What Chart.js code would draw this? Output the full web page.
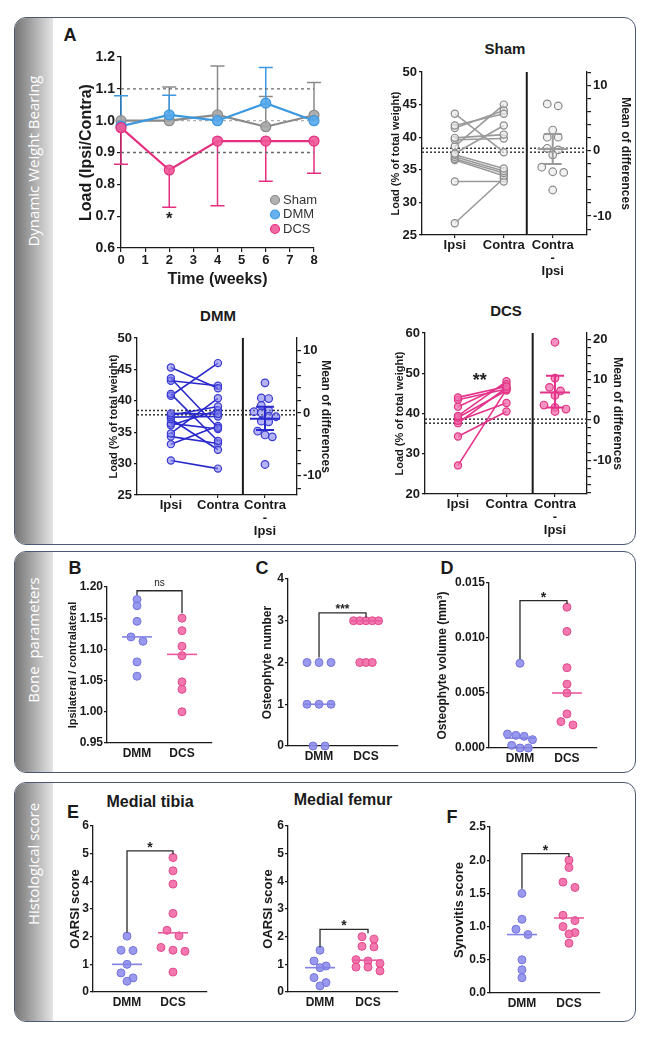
<!DOCTYPE html>
<html>
<head>
<meta charset="utf-8">
<title>Weight bearing, bone parameters and histology</title>
<script src="https://cdn.jsdelivr.net/npm/chart.js@4.4.1/dist/chart.umd.min.js"></script>
<style>
  body { margin: 0; background: #fff; }
  #fig { position: relative; width: 649px; height: 1040px; overflow: hidden; font-family: "Liberation Sans", Arial, sans-serif; color: #1a1a1a; }
  .panel { position: absolute; left: 14px; width: 622px; box-sizing: border-box; border: 1.6px solid #4b5a70; border-radius: 12px; overflow: hidden; }
  .strip { position: absolute; left: 0; top: 0; bottom: 0; width: 38px; background: linear-gradient(to right, #767676, #9c9c9c 35%, #e4e4e4); }
  .side { position: absolute; left: 33px; color: #fff; font-family: "Open Sans", sans-serif; font-size: 15px; white-space: nowrap; transform: translate(-50%, -50%) rotate(-90deg); }
  .tag { position: absolute; font-weight: bold; white-space: nowrap; transform: translate(-50%, -50%); }
  canvas { position: absolute; }
</style>
</head>
<body>
<div id="fig">
  <div class="panel" style="top:17px;height:528px"><div class="strip"></div></div>
  <div class="panel" style="top:551px;height:222px"><div class="strip"></div></div>
  <div class="panel" style="top:782px;height:240px"><div class="strip"></div></div>
  <div class="side" style="top:161px">Dynamic Weight Bearing</div>
  <div class="side" style="top:640px">Bone&nbsp; parameters</div>
  <div class="side" style="top:864px">Histological score</div>

  <div class="tag" style="left:70px;top:35px;font-size:18px">A</div>
  <div class="tag" style="left:505px;top:48px;font-size:15px">Sham</div>
  <div class="tag" style="left:218px;top:315px;font-size:15px">DMM</div>
  <div class="tag" style="left:506px;top:310px;font-size:15px">DCS</div>
  <div class="tag" style="left:75px;top:568px;font-size:18px">B</div>
  <div class="tag" style="left:262px;top:568px;font-size:18px">C</div>
  <div class="tag" style="left:447px;top:568px;font-size:18px">D</div>
  <div class="tag" style="left:150px;top:802px;font-size:16px">Medial tibia</div>
  <div class="tag" style="left:343px;top:800px;font-size:16px">Medial femur</div>
  <div class="tag" style="left:73px;top:812px;font-size:18px">E</div>
  <div class="tag" style="left:452px;top:817px;font-size:18px">F</div>

  <canvas id="cA"></canvas>
  <canvas id="cSham"></canvas>
  <canvas id="cDmm"></canvas>
  <canvas id="cDcs"></canvas>
  <canvas id="cB"></canvas>
  <canvas id="cC"></canvas>
  <canvas id="cD"></canvas>
  <canvas id="cE1"></canvas>
  <canvas id="cE2"></canvas>
  <canvas id="cF"></canvas>
</div>

<script>
// ---- A: load ratio over time ----
const weeks = [0, 2, 4, 6, 8];
const shamRatio = [1.0, 1.0, 1.018, 0.981, 1.017];
const dmmRatio = [0.983, 1.018, 1.0, 1.055, 1.0];
const dcsRatio = [0.978, 0.845, 0.936, 0.936, 0.936];
const shamErrTop = [null, 1.106, 1.172, 1.076, 1.12];
const dmmErrTop = [1.078, 1.08, null, 1.167, null];
const dcsErrLow = [0.863, 0.728, 0.733, 0.81, 0.835];
const ratioGuides = [1.1, 1.0, 0.9];

// ---- paired weight bearing (Ipsi / Contra, Contra - Ipsi) ----
const pairLabels = ['Ipsi', 'Contra', ['Contra', '-', 'Ipsi']];
const shamIpsi = [43.6, 41.8, 41.4, 39.9, 39.6, 38.6, 37.5, 37.3, 37.0, 36.7, 36.5, 33.2, 26.8];
const shamContra = [37.7, 43.6, 44.1, 40.4, 39.8, 45.0, 41.8, 35.2, 34.8, 34.5, 34.1, 33.2, 33.7];
const shamDiff = [7.2, 6.9, 3.2, 2.1, 2.1, 0.4, 0.15, -0.6, -2.5, -3.2, -3.3, -6.0];
const shamDiffMean = 0.3;
const shamDiffSd = [-2.0, 2.6];
const shamGuides = [38.3, 37.7];

const dmmIpsi = [45.3, 43.6, 43.2, 41.1, 40.8, 38.0, 37.7, 37.4, 37.1, 36.4, 36.1, 34.8, 34.3, 33.1, 30.5];
const dmmContra = [42.0, 35.7, 42.4, 33.6, 46.0, 37.9, 39.1, 37.5, 32.2, 35.5, 38.5, 40.4, 33.2, 36.0, 29.2];
const dmmDiff = [4.8, 2.4, 2.3, 1.2, 0.4, 0.2, 0.0, -0.5, -0.6, -1.3, -1.4, -2.9, -3.5, -3.8, -8.2];
const dmmDiffMean = -0.9;
const dmmDiffSd = [-2.7, 1.0];
const dmmGuides = [38.46, 37.77];

const dcsIpsi = [44.0, 43.4, 41.7, 39.4, 39.0, 38.2, 37.6, 34.3, 27.1];
const dcsContra = [46.7, 46.1, 47.3, 48.0, 45.7, 42.6, 46.4, 40.5, 46.0];
const dcsDiff = [19.3, 10.4, 8.1, 7.2, 6.1, 3.7, 3.1, 2.7, 2.1];
const dcsDiffMean = 6.8;
const dcsDiffSd = [3.1, 11.0];
const dcsGuides = [38.6, 37.6];

// ---- B-F: DMM vs DCS ----
const groups = ['DMM', 'DCS'];
const ratioDmm = [1.18, 1.17, 1.145, 1.12, 1.113, 1.08, 1.057];
const ratioDcs = [1.15, 1.13, 1.105, 1.09, 1.048, 1.036, 1.0];
const ratioMedian = [1.12, 1.092];
const osteoNumDmm = [2, 2, 2, 1, 1, 1, 0, 0];
const osteoNumDcs = [3, 3, 3, 3, 3, 2, 2, 2];
const osteoNumMedian = [1, 3];
const osteoVolDmm = [0.0077, 0.00127, 0.00115, 0.00106, 0.00076, 0.00024, 0, 0];
const osteoVolDcs = [0.0128, 0.0106, 0.0073, 0.0058, 0.0050, 0.0031, 0.0024, 0.0021];
const osteoVolMedian = [0.0009, 0.005];
const tibiaDmm = [2.02, 1.51, 1.5, 1.0, 0.69, 0.51, 0.39];
const tibiaDcs = [4.86, 4.38, 3.9, 2.84, 2.23, 2.03, 1.61, 1.51, 1.47, 0.72];
const tibiaMedian = [1.0, 2.14];
const femurDmm = [1.51, 1.12, 0.94, 0.88, 0.52, 0.34, 0.22];
const femurDcs = [2.0, 1.91, 1.65, 1.63, 1.17, 1.12, 1.03, 0.9, 0.9, 0.76];
const femurMedian = [0.88, 1.15];
const synDmm = [1.5, 1.11, 0.96, 0.88, 0.5, 0.35, 0.23];
const synDcs = [2.0, 1.89, 1.67, 1.59, 1.17, 1.09, 1.0, 0.91, 0.89, 0.75];
const synMedian = [0.88, 1.13];

const INK = '#1a1a1a';
Chart.defaults.animation = false;
Chart.defaults.font.family = '"Liberation Sans", Arial, sans-serif';
Chart.defaults.color = INK;
Chart.defaults.plugins.legend.display = false;
Chart.defaults.plugins.tooltip.enabled = false;

// brackets, error bars, mean +/- sd, star texts and the small legend of A
const marks = {
  id: 'marks',
  beforeDatasetsDraw(chart) {
    const { ctx, scales: { x, y } } = chart;
    chart.data.datasets.forEach(ds => {
      if (!ds.errTo) return;
      ctx.save();
      ctx.strokeStyle = ds.borderColor;
      ctx.lineWidth = 1.5;
      ds.errTo.forEach((e, i) => {
        if (e == null) return;
        const px = x.getPixelForValue(ds.data[i].x);
        const p1 = y.getPixelForValue(e);
        ctx.beginPath();
        ctx.moveTo(px, y.getPixelForValue(ds.data[i].y));
        ctx.lineTo(px, p1);
        ctx.moveTo(px - 7, p1);
        ctx.lineTo(px + 7, p1);
        ctx.stroke();
      });
      ctx.restore();
    });
  },
  afterDatasetsDraw(chart, args, o) {
    const { ctx, scales } = chart;
    const x = scales.x;
    ctx.save();
    (o.brackets || []).forEach(k => {
      const y = scales.y;
      const a = x.getPixelForValue(1), c = x.getPixelForValue(2), top = y.getPixelForValue(k.top);
      ctx.strokeStyle = '#2a2a2a';
      ctx.lineWidth = 1.3;
      ctx.beginPath();
      ctx.moveTo(a, y.getPixelForValue(k.feet[0]));
      ctx.lineTo(a, top);
      ctx.lineTo(c, top);
      ctx.lineTo(c, y.getPixelForValue(k.feet[1]));
      ctx.stroke();
      ctx.fillStyle = '#222';
      ctx.font = k.font;
      ctx.textAlign = 'center';
      ctx.textBaseline = 'alphabetic';
      ctx.fillText(k.label, (a + c) / 2, top - k.lift);
    });
    (o.spread || []).forEach(m => {
      const y = scales[m.axis];
      const px = x.getPixelForValue(m.x);
      const lo = y.getPixelForValue(m.lo), hi = y.getPixelForValue(m.hi), mid = y.getPixelForValue(m.mean);
      ctx.strokeStyle = m.color;
      ctx.lineWidth = 2;
      ctx.beginPath();
      ctx.moveTo(px, lo); ctx.lineTo(px, hi);
      ctx.moveTo(px - 9, lo); ctx.lineTo(px + 9, lo);
      ctx.moveTo(px - 9, hi); ctx.lineTo(px + 9, hi);
      ctx.moveTo(px - 15, mid); ctx.lineTo(px + 15, mid);
      ctx.stroke();
    });
    (o.texts || []).forEach(t => {
      ctx.fillStyle = '#222';
      ctx.font = t.font;
      ctx.textAlign = 'center';
      ctx.textBaseline = 'middle';
      ctx.fillText(t.text, x.getPixelForValue(t.x), scales.y.getPixelForValue(t.y));
    });
    if (o.legend) {
      const { left, top } = chart.chartArea;
      chart.data.datasets.filter(d => d.inLegend).forEach((d, i) => {
        const cx = left + o.legend.x, cy = top + o.legend.y + i * o.legend.gap;
        ctx.beginPath();
        ctx.arc(cx, cy, 4.5, 0, Math.PI * 2);
        ctx.fillStyle = d.pointBackgroundColor;
        ctx.fill();
        ctx.strokeStyle = d.borderColor;
        ctx.lineWidth = 1.2;
        ctx.stroke();
        ctx.fillStyle = '#333';
        ctx.font = '13px "Liberation Sans", Arial, sans-serif';
        ctx.textAlign = 'left';
        ctx.textBaseline = 'middle';
        ctx.fillText(d.label, cx + 8, cy);
      });
    }
    ctx.restore();
  }
};
Chart.register(marks);

function frame(id, b) {
  const cv = document.getElementById(id);
  cv.width = b.w;
  cv.height = b.h;
  cv.style.left = b.left + 'px';
  cv.style.top = b.top + 'px';
  return cv;
}

function look(tick) {
  return {
    grid: { drawOnChartArea: false, drawTicks: tick > 0, tickLength: tick, color: INK, lineWidth: 1.2 },
    border: { display: true, color: INK, width: 1.3 }
  };
}

function tickList(min, max, step) {
  const n = Math.round((max - min) / step);
  return Array.from({ length: n + 1 }, (_, i) => ({ value: min + i * step }));
}

// title of a vertical axis, centred on page column cx
function sideTitle(text, size, b, cx, side) {
  const edge = side === 'left' ? cx - b.left : b.left + b.w - cx;
  return { display: true, text, color: INK, font: { size, weight: 'bold' },
           padding: { top: Math.max(0, edge - size * 0.6), bottom: 0 } };
}

function yAxis(b, min, max, step, digits, title, size, tick, pad) {
  return Object.assign({
    type: 'linear', position: 'left', min, max,
    afterBuildTicks: s => { s.ticks = tickList(min, max, step); },
    afterFit: s => { s.width = b.x0 - b.left; },
    ticks: { autoSkip: false, padding: pad, font: { size, weight: 'bold' }, callback: v => v.toFixed(digits) },
    title
  }, look(tick));
}

// sideways spread of points whose values would overlap (rows of near-equal values)
function swarm(values, pxY, pxX, step, maxW, dia) {
  const order = values.map((v, i) => i).sort((a, b) => values[b] - values[a]);
  const rows = [];
  order.forEach(i => {
    const row = rows[rows.length - 1];
    if (row && (values[row[0]] - values[i]) * pxY < dia) row.push(i);
    else rows.push([i]);
  });
  const big = Math.max(...rows.map(r => r.length));
  const gap = big > 1 ? Math.min(step, maxW / (big - 1)) : step;
  const off = values.map(() => 0);
  rows.forEach(r => r.forEach((i, k) => { off[i] = (k - (r.length - 1) / 2) * gap / pxX; }));
  return off;
}

// ---------------- A ----------------
(function () {
  const b = { left: 60, top: 40, w: 275, h: 255, x0: 121, x1: 314, y0: 57, y1: 248 };
  frame('cA', b);
  const series = [
    { label: 'Sham', vals: shamRatio, err: shamErrTop, line: '#8a8a8a', fill: 'rgba(168,168,168,0.9)' },
    { label: 'DMM', vals: dmmRatio, err: dmmErrTop, line: '#3b98df', fill: 'rgba(86,168,236,0.9)' },
    { label: 'DCS', vals: dcsRatio, err: dcsErrLow, line: '#e42f80', fill: 'rgba(240,88,152,0.9)' }
  ];
  const sets = ratioGuides.map((g, i) => ({
    data: [{ x: 0, y: g }, { x: 8, y: g }], showLine: true, pointRadius: 0, order: 5,
    borderColor: i === 1 ? '#b0b0b0' : '#6a6a6a', borderWidth: 1.4, borderDash: [3, 3]
  }));
  series.forEach((s, k) => sets.push({
    label: s.label, inLegend: true, errTo: s.err,
    data: weeks.map((w, i) => ({ x: w, y: s.vals[i] })),
    showLine: true, borderColor: s.line, borderWidth: 2.2,
    pointRadius: 5, pointBackgroundColor: s.fill, pointBorderColor: s.line, pointBorderWidth: 1.2,
    order: 3 - k, clip: false
  }));
  const xH = b.top + b.h - b.y1;
  new Chart(document.getElementById('cA'), {
    type: 'scatter',
    data: { datasets: sets },
    options: {
      responsive: false,
      layout: { padding: { left: 0, top: b.y0 - b.top, right: b.left + b.w - b.x1, bottom: 0 } },
      scales: {
        x: Object.assign({
          type: 'linear', min: 0, max: 8,
          afterBuildTicks: s => { s.ticks = tickList(0, 8, 1); },
          afterFit: s => { s.height = xH; },
          ticks: { autoSkip: false, maxRotation: 0, padding: 1, font: { size: 13, weight: 'bold' } },
          title: { display: true, text: 'Time (weeks)', color: INK, font: { size: 16, weight: 'bold' },
                   padding: { top: 0, bottom: (b.top + b.h - 280) - 9.6 } }
        }, look(4)),
        y: yAxis(b, 0.6, 1.2, 0.1, 1, sideTitle('Load (Ipsi/Contra)', 16, b, 87, 'left'), 14, 4, 2)
      },
      plugins: {
        marks: {
          texts: [{ x: 2, y: 0.69, text: '*', font: 'bold 17px "Liberation Sans", Arial, sans-serif' }],
          legend: { x: 154, y: 143, gap: 14.5 }
        }
      }
    }
  });
})();

// ---------------- paired panels ----------------
function pairedChart(id, b, c) {
  frame(id, b);
  const pxY = (b.y1 - b.y0) / (c.yMax - c.yMin);
  const pxX = (b.x1 - b.x0) / (c.xMax - c.xMin);
  const off = swarm(c.diff, pxY, pxX, 11, 22, 6);
  const sets = [];
  c.guides.forEach(g => sets.push({
    data: [{ x: c.xMin, y: g }, { x: c.xMax, y: g }], showLine: true, pointRadius: 0,
    borderColor: '#333', borderWidth: 1.5, borderDash: [2, 2], order: 4
  }));
  sets.push({
    data: [{ x: c.divider, y: c.yMin }, { x: c.divider, y: c.yMax }], showLine: true, pointRadius: 0,
    borderColor: INK, borderWidth: 2, order: 4
  });
  c.ipsi.forEach((v, i) => sets.push({
    data: [{ x: 1, y: v }, { x: 2, y: c.contra[i] }], showLine: true,
    borderColor: c.line, borderWidth: 1.6,
    pointRadius: 3.6, pointBackgroundColor: c.fill, pointBorderColor: c.ring, pointBorderWidth: 1.2,
    order: 1, clip: false
  }));
  sets.push({
    yAxisID: 'y2', data: c.diff.map((v, i) => ({ x: 3 + off[i], y: v })),
    pointRadius: 3.8, pointBackgroundColor: c.fill, pointBorderColor: c.ring, pointBorderWidth: 1.2,
    order: 0, clip: false
  });
  const lo2 = c.yMin - c.zero, hi2 = c.yMax - c.zero;
  new Chart(document.getElementById(id), {
    type: 'scatter',
    data: { datasets: sets },
    options: {
      responsive: false,
      layout: { padding: { left: 0, top: b.y0 - b.top, right: 0, bottom: 0 } },
      scales: {
        x: Object.assign({
          type: 'linear', min: c.xMin, max: c.xMax,
          afterBuildTicks: s => { s.ticks = [1, 2, 3].map(value => ({ value })); },
          afterFit: s => { s.height = b.top + b.h - b.y1; },
          ticks: { autoSkip: false, maxRotation: 0, padding: 1, font: { size: 13, weight: 'bold', lineHeight: 1 },
                   callback: v => pairLabels[v - 1] }
        }, look(3)),
        y: yAxis(b, c.yMin, c.yMax, c.yStep, 0, sideTitle('Load (% of total weight)', 11, b, c.leftTitle, 'left'), 13, 3, 2),
        y2: Object.assign({
          type: 'linear', position: 'right', min: lo2, max: hi2,
          afterBuildTicks: s => { s.ticks = tickList(Math.ceil(lo2 / 2) * 2, Math.floor(hi2 / 2) * 2, 2); },
          afterFit: s => { s.width = b.left + b.w - b.x1; },
          ticks: { autoSkip: false, padding: 2, font: { size: 13, weight: 'bold' },
                   callback: v => (Math.abs(v % 10) < 1e-6 ? String(Math.round(v)) : '') },
          title: sideTitle('Mean of differences', 12, b, c.rightTitle, 'right')
        }, look(4))
      },
      plugins: {
        marks: {
          spread: [{ axis: 'y2', x: 3, mean: c.mean, lo: c.sd[0], hi: c.sd[1], color: c.line }],
          texts: c.texts || []
        }
      }
    }
  });
}

pairedChart('cSham', { left: 370, top: 60, w: 266, h: 218, x0: 422, x1: 587, y0: 72, y1: 235 }, {
  ipsi: shamIpsi, contra: shamContra, diff: shamDiff, mean: shamDiffMean, sd: shamDiffSd, guides: shamGuides,
  yMin: 25, yMax: 50, yStep: 5, zero: 37.9, xMin: 0.33, xMax: 3.7, divider: 2.47,
  leftTitle: 396, rightTitle: 625,
  line: '#9a9a9a', fill: 'rgba(236,236,236,0.7)', ring: '#8a8a8a'
});

pairedChart('cDmm', { left: 80, top: 325, w: 260, h: 215, x0: 137, x1: 297, y0: 338, y1: 495 }, {
  ipsi: dmmIpsi, contra: dmmContra, diff: dmmDiff, mean: dmmDiffMean, sd: dmmDiffSd, guides: dmmGuides,
  yMin: 25, yMax: 50, yStep: 5, zero: 38.06, xMin: 0.28, xMax: 3.68, divider: 2.53,
  leftTitle: 114, rightTitle: 325,
  line: '#2a2acc', fill: 'rgba(128,128,240,0.6)', ring: '#3a3ad2'
});

pairedChart('cDcs', { left: 370, top: 320, w: 266, h: 220, x0: 425, x1: 587, y0: 333, y1: 494 }, {
  ipsi: dcsIpsi, contra: dcsContra, diff: dcsDiff, mean: dcsDiffMean, sd: dcsDiffSd, guides: dcsGuides,
  yMin: 20, yMax: 60, yStep: 10, zero: 38.4, xMin: 0.32, xMax: 3.66, divider: 2.54,
  leftTitle: 400, rightTitle: 617,
  line: '#e5328a', fill: 'rgba(242,110,172,0.75)', ring: '#e03584',
  texts: [{ x: 1.45, y: 48.0, text: '**', font: 'bold 18px "Liberation Sans", Arial, sans-serif' }]
});

// ---------------- DMM vs DCS dot plots ----------------
function dotChart(id, b, c) {
  frame(id, b);
  const pxY = (b.y1 - b.y0) / (c.yMax - c.yMin);
  const pxX = (b.x1 - b.x0) / (c.xMax - c.xMin);
  const half = 15 / pxX;
  const cols = [
    { vals: c.dmm, mid: c.mid[0], fill: 'rgba(142,142,236,0.9)', ring: '#7474dc', line: '#8282e6' },
    { vals: c.dcs, mid: c.mid[1], fill: 'rgba(241,108,168,0.92)', ring: '#e2488c', line: '#ea5a9e' }
  ];
  const sets = [];
  cols.forEach((g, k) => {
    const pos = k + 1;
    const off = swarm(g.vals, pxY, pxX, 12, 25, 6);
    sets.push({
      data: [{ x: pos - half, y: g.mid }, { x: pos + half, y: g.mid }], showLine: true, pointRadius: 0,
      borderColor: g.line, borderWidth: 1.6, order: 0
    });
    sets.push({
      data: g.vals.map((v, i) => ({ x: pos + off[i], y: v })),
      pointRadius: 4, pointBackgroundColor: g.fill, pointBorderColor: g.ring, pointBorderWidth: 1,
      order: 1, clip: false
    });
  });
  new Chart(document.getElementById(id), {
    type: 'scatter',
    data: { datasets: sets },
    options: {
      responsive: false,
      layout: { padding: { left: 0, top: b.y0 - b.top, right: b.left + b.w - b.x1, bottom: 0 } },
      scales: {
        x: Object.assign({
          type: 'linear', min: c.xMin, max: c.xMax,
          afterBuildTicks: s => { s.ticks = [1, 2].map(value => ({ value })); },
          afterFit: s => { s.height = b.top + b.h - b.y1; },
          ticks: { autoSkip: false, maxRotation: 0, padding: 3, font: { size: 12, weight: 'bold' },
                   callback: v => groups[v - 1] }
        }, look(0)),
        y: yAxis(b, c.yMin, c.yMax, c.yStep, c.digits, sideTitle(c.title, c.titleSize || 12, b, c.titleX, 'left'), 12, 3, 1)
      },
      plugins: { marks: { brackets: [c.bracket] } }
    }
  });
}

const starFont = 'bold 14px "Liberation Sans", Arial, sans-serif';

dotChart('cB', { left: 58, top: 573, w: 160, h: 192, x0: 107, x1: 212, y0: 587, y1: 743 }, {
  dmm: ratioDmm, dcs: ratioDcs, mid: ratioMedian, yMin: 0.95, yMax: 1.2, yStep: 0.05, digits: 2,
  xMin: 0.333, xMax: 2.667, title: 'Ipsilateral / contralateral', titleSize: 11, titleX: 73,
  bracket: { top: 1.194, feet: [1.187, 1.158], label: 'ns', lift: 5, font: '10px "Liberation Sans", Arial, sans-serif' }
});

dotChart('cC', { left: 238, top: 567, w: 167, h: 198, x0: 288, x1: 398, y0: 579, y1: 746 }, {
  dmm: osteoNumDmm, dcs: osteoNumDcs, mid: osteoNumMedian, yMin: 0, yMax: 4, yStep: 1, digits: 0,
  xMin: 0.34, xMax: 2.68, title: 'Osteophyte number', titleX: 268,
  bracket: { top: 3.19, feet: [2.12, 3.08], label: '***', lift: 0, font: 'bold 12px "Liberation Sans", Arial, sans-serif' }
});

dotChart('cD', { left: 425, top: 567, w: 180, h: 198, x0: 489, x1: 597, y0: 583, y1: 748 }, {
  dmm: osteoVolDmm, dcs: osteoVolDcs, mid: osteoVolMedian, yMin: 0, yMax: 0.015, yStep: 0.005, digits: 3,
  xMin: 0.34, xMax: 2.64, title: 'Osteophyte volume (mm³)', titleX: 443,
  bracket: { top: 0.0134, feet: [0.0081, 0.0131], label: '*', lift: -1, font: starFont }
});

dotChart('cE1', { left: 48, top: 814, w: 167, h: 200, x0: 93, x1: 207, y0: 826, y1: 992 }, {
  dmm: tibiaDmm, dcs: tibiaDcs, mid: tibiaMedian, yMin: 0, yMax: 6, yStep: 1, digits: 0,
  xMin: 0.26, xMax: 2.74, title: 'OARSI score', titleSize: 13, titleX: 75,
  bracket: { top: 5.1, feet: [2.15, 4.98], label: '*', lift: -1, font: starFont }
});

dotChart('cE2', { left: 238, top: 814, w: 167, h: 200, x0: 288, x1: 398, y0: 826, y1: 992 }, {
  dmm: femurDmm, dcs: femurDcs, mid: femurMedian, yMin: 0, yMax: 6, yStep: 1, digits: 0,
  xMin: 0.333, xMax: 2.625, title: 'OARSI score', titleSize: 13, titleX: 268,
  bracket: { top: 2.26, feet: [1.62, 2.12], label: '*', lift: -1, font: starFont }
});

dotChart('cF', { left: 440, top: 814, w: 170, h: 200, x0: 490, x1: 600, y0: 827, y1: 993 }, {
  dmm: synDmm, dcs: synDcs, mid: synMedian, yMin: 0, yMax: 2.5, yStep: 0.5, digits: 1,
  xMin: 0.32, xMax: 2.66, title: 'Synovitis score', titleSize: 13, titleX: 459,
  bracket: { top: 2.1, feet: [1.57, 2.05], label: '*', lift: -1, font: starFont }
});
</script>
</body>
</html>
